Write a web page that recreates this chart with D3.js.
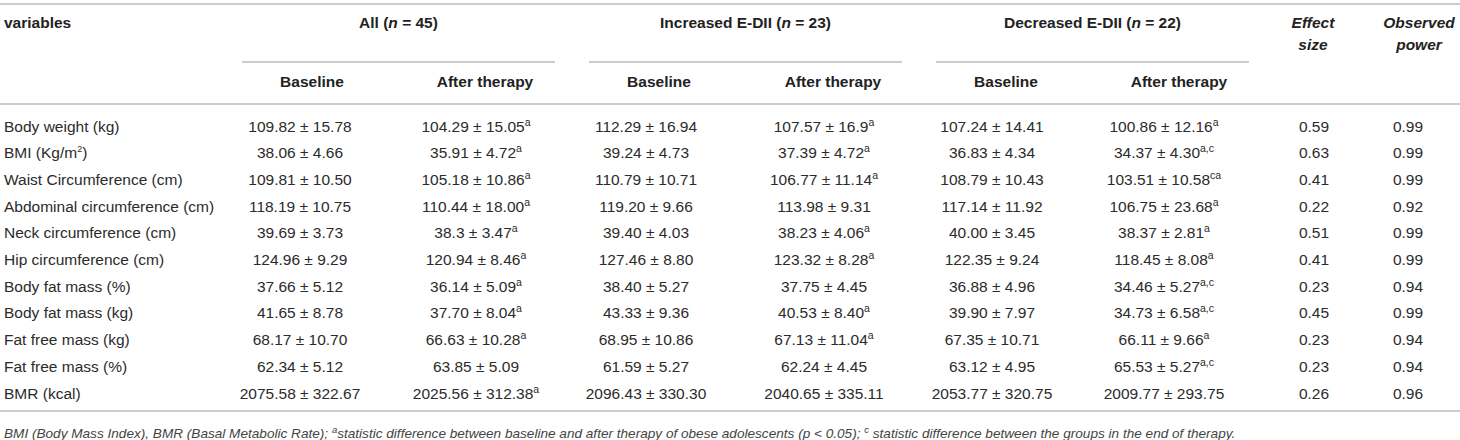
<!DOCTYPE html>
<html lang="en">
<head>
<meta charset="UTF-8" />
<title>E-DII table</title>
<script src="https://d3js.org/d3.v7.min.js"></script>
<style>
  body { margin: 0; background: #fff; }
  svg { font-family: "Liberation Sans", Arial, Helvetica, sans-serif; }
</style>
</head>
<body>
<script>
// table data
var variables = ["Body weight (kg)", "BMI (Kg/m²)", "Waist Circumference (cm)", "Abdominal circumference (cm)",
  "Neck circumference (cm)", "Hip circumference (cm)", "Body fat mass (%)", "Body fat mass (kg)",
  "Fat free mass (kg)", "Fat free mass (%)", "BMR (kcal)"];

var allBase = ["109.82 ± 15.78", "38.06 ± 4.66", "109.81 ± 10.50", "118.19 ± 10.75", "39.69 ± 3.73", "124.96 ± 9.29",
  "37.66 ± 5.12", "41.65 ± 8.78", "68.17 ± 10.70", "62.34 ± 5.12", "2075.58 ± 322.67"];
var allAfter = ["104.29 ± 15.05", "35.91 ± 4.72", "105.18 ± 10.86", "110.44 ± 18.00", "38.3 ± 3.47", "120.94 ± 8.46",
  "36.14 ± 5.09", "37.70 ± 8.04", "66.63 ± 10.28", "63.85 ± 5.09", "2025.56 ± 312.38"];
var allAfterSup = ["a", "a", "a", "a", "a", "a", "a", "a", "a", "", "a"];

var incBase = ["112.29 ± 16.94", "39.24 ± 4.73", "110.79 ± 10.71", "119.20 ± 9.66", "39.40 ± 4.03", "127.46 ± 8.80",
  "38.40 ± 5.27", "43.33 ± 9.36", "68.95 ± 10.86", "61.59 ± 5.27", "2096.43 ± 330.30"];
var incAfter = ["107.57 ± 16.9", "37.39 ± 4.72", "106.77 ± 11.14", "113.98 ± 9.31", "38.23 ± 4.06", "123.32 ± 8.28",
  "37.75 ± 4.45", "40.53 ± 8.40", "67.13 ± 11.04", "62.24 ± 4.45", "2040.65 ± 335.11"];
var incAfterSup = ["a", "a", "a", "", "a", "a", "", "a", "a", "", ""];

var decBase = ["107.24 ± 14.41", "36.83 ± 4.34", "108.79 ± 10.43", "117.14 ± 11.92", "40.00 ± 3.45", "122.35 ± 9.24",
  "36.88 ± 4.96", "39.90 ± 7.97", "67.35 ± 10.71", "63.12 ± 4.95", "2053.77 ± 320.75"];
var decAfter = ["100.86 ± 12.16", "34.37 ± 4.30", "103.51 ± 10.58", "106.75 ± 23.68", "38.37 ± 2.81", "118.45 ± 8.08",
  "34.46 ± 5.27", "34.73 ± 6.58", "66.11 ± 9.66", "65.53 ± 5.27", "2009.77 ± 293.75"];
var decAfterSup = ["a", "a,c", "ca", "a", "a", "a", "a,c", "a,c", "a", "a,c", ""];

var effectSize = ["0.59", "0.63", "0.41", "0.22", "0.51", "0.41", "0.23", "0.45", "0.23", "0.23", "0.26"];
var observedPower = ["0.99", "0.99", "0.99", "0.92", "0.99", "0.99", "0.94", "0.99", "0.94", "0.94", "0.96"];

var groups = [
  { label: "All", n: "45" },
  { label: "Increased E-DII", n: "23" },
  { label: "Decreased E-DII", n: "22" }
];
var subHeaders = ["Baseline", "After therapy"];
var footnote = [
  { t: "BMI (Body Mass Index), BMR (Basal Metabolic Rate); " },
  { t: "a", sup: true },
  { t: "statistic difference between baseline and after therapy of obese adolescents (p < 0.05); " },
  { t: "c", sup: true },
  { t: " statistic difference between the groups in the end of therapy." }
];

var w = 1460, h = 440;
var lineColor = "#bdbdbd";
var textColor = "#2b2b2b";

var svg = d3.select("body").append("svg")
  .attr("width", w)
  .attr("height", h);

// column layout
var colKeys = ["allBase", "allAfter", "incBase", "incAfter", "decBase", "decAfter", "effect", "power"];
var colData = [allBase, allAfter, incBase, incAfter, decBase, decAfter, effectSize, observedPower];
var colSup = [null, allAfterSup, null, incAfterSup, null, decAfterSup, null, null];
var dataX = d3.scaleOrdinal().domain(colKeys).range([300, 476, 646, 824, 992, 1164, 1314, 1408]);
var headX = d3.scaleOrdinal().domain(colKeys).range([312, 485, 659, 833, 1006, 1179, 1313, 1419]);
var groupScale = d3.scaleBand().domain(d3.range(groups.length)).range([242, 1249]).paddingInner(0.098);

var yRow = d3.scalePoint().domain(variables).range([126, 393]);

// rules
svg.append("line").attr("x1", 0).attr("x2", w).attr("y1", 4).attr("y2", 4)
  .attr("stroke", lineColor).attr("stroke-width", 1.5);
svg.append("line").attr("x1", 0).attr("x2", w).attr("y1", 104).attr("y2", 104)
  .attr("stroke", lineColor).attr("stroke-width", 1.5);
svg.append("line").attr("x1", 0).attr("x2", w).attr("y1", 411).attr("y2", 411)
  .attr("stroke", lineColor).attr("stroke-width", 1.5);

// group headers
svg.append("text").attr("x", 4).attr("y", 28)
  .attr("font-size", 15.5).attr("font-weight", "bold").attr("fill", "#222")
  .text("variables");

groups.forEach(function(g, i) {
  var x0 = groupScale(i), x1 = x0 + groupScale.bandwidth();
  var t = svg.append("text").attr("x", (x0 + x1) / 2).attr("y", 28)
    .attr("text-anchor", "middle").attr("font-size", 15.5).attr("font-weight", "bold").attr("fill", "#222");
  t.append("tspan").text(g.label + " (");
  t.append("tspan").attr("font-style", "italic").text("n");
  t.append("tspan").text(" = " + g.n + ")");
  svg.append("line").attr("x1", x0).attr("x2", x1).attr("y1", 62).attr("y2", 62)
    .attr("stroke", lineColor).attr("stroke-width", 1.5);
});

[["Effect", "size", "effect"], ["Observed", "power", "power"]].forEach(function(d) {
  var t = svg.append("text").attr("text-anchor", "middle").attr("font-size", 15.5)
    .attr("font-weight", "bold").attr("font-style", "italic").attr("fill", "#222");
  t.append("tspan").attr("x", headX(d[2])).attr("y", 28).text(d[0]);
  t.append("tspan").attr("x", headX(d[2])).attr("y", 50).text(d[1]);
});

// sub headers
svg.selectAll("text.sub")
  .data(colKeys.slice(0, 6))
  .enter().append("text")
  .attr("class", "sub")
  .attr("x", function(d) { return headX(d); })
  .attr("y", 87)
  .attr("text-anchor", "middle")
  .attr("font-size", 15.5)
  .attr("font-weight", "bold")
  .attr("fill", "#222")
  .text(function(d, i) { return subHeaders[i % 2]; });

// row labels
svg.selectAll("text.label")
  .data(variables)
  .enter().append("text")
  .attr("class", "label")
  .attr("x", 4)
  .attr("y", function(d) { return yRow(d) + 5.5; })
  .attr("font-size", 15.5)
  .attr("fill", textColor)
  .each(function(d) {
    var el = d3.select(this);
    if (d.indexOf("²") >= 0) {
      var parts = d.split("²");
      el.append("tspan").text(parts[0]);
      el.append("tspan").attr("font-size", 9).attr("dy", -6).text("2");
      el.append("tspan").attr("dy", 6).text(parts[1]);
    } else {
      el.text(d);
    }
  });

// cells
colKeys.forEach(function(key, c) {
  var values = colData[c];
  var sups = colSup[c];
  svg.selectAll("text.c" + c)
    .data(values)
    .enter().append("text")
    .attr("class", "c" + c)
    .attr("x", dataX(key))
    .attr("y", function(d, i) { return yRow(variables[i]) + 5.5; })
    .attr("text-anchor", "middle")
    .attr("font-size", 15.5)
    .attr("fill", textColor)
    .each(function(d, i) {
      var el = d3.select(this);
      el.append("tspan").text(d);
      if (sups && sups[i]) {
        el.append("tspan").attr("font-size", 10.5).attr("dy", -6).text(sups[i]);
      }
    });
});

// footnote
var fn = svg.append("text").attr("x", 4).attr("y", 433)
  .attr("font-size", 13.6).attr("font-style", "italic").attr("fill", "#444");
footnote.forEach(function(p) {
  if (p.sup) {
    fn.append("tspan").attr("font-size", 9.5).attr("dy", -5).text(p.t);
  } else {
    fn.append("tspan").attr("dy", fn.selectAll("tspan").size() > 0 ? 5 : 0).text(p.t);
  }
});
</script>
</body>
</html>
